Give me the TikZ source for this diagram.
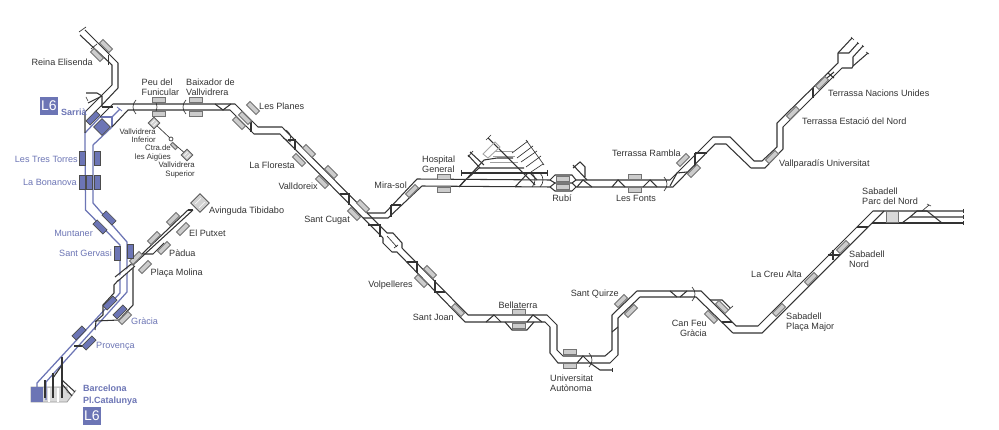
\documentclass[tikz,border=0pt]{standalone}
\usepackage{fontspec}
\setmainfont{Liberation Sans}
\definecolor{trk}{HTML}{333333}
\definecolor{fgc}{HTML}{6C75B5}
\definecolor{txt}{HTML}{333333}
\tikzset{
  trk/.style={draw=trk,line width=1.05pt,line join=miter},
  gtrk/.style={draw=gray!75,line width=1pt},
  bl/.style={draw=fgc,line width=1.25pt},
  thin trk/.style={draw=trk,line width=0.65pt},
  bridge/.style={draw=white,line width=3pt},
  plat/.style={draw=gray!90!black,fill=gray!40,line width=0.9pt,minimum width=13.5pt,minimum height=5pt,inner sep=0pt,outer sep=0pt},
  bplat/.style={draw=black!70,fill=fgc,line width=0.7pt,minimum width=14pt,minimum height=6pt,inner sep=0pt,outer sep=0pt},
  lab/.style={font=\fontsize{9.1}{10}\selectfont,text=txt,inner sep=0pt,align=left},
  blab/.style={font=\fontsize{9.1}{10}\selectfont,text=fgc,inner sep=0pt},
  sm/.style={font=\fontsize{7.8}{8.4}\selectfont,text=txt,inner sep=0pt,align=right},
  bblab/.style={font=\fontsize{9}{12}\selectfont\bfseries,text=fgc,inner sep=0pt,align=left},
  lbox/.style={fill=fgc,text=white,font=\fontsize{14}{14}\selectfont,minimum size=18pt,inner sep=0pt},
}
\newcommand{\arcR}[2]{\draw[thin trk] (#1-1,#2-7) .. controls (#1+3,#2-3) and (#1+3,#2+3) .. (#1-1,#2+7);}
\newcommand{\arcL}[2]{\draw[thin trk] (#1+1,#2-7) .. controls (#1-3,#2-3) and (#1-3,#2+3) .. (#1+1,#2+7);}
\begin{document}
\begin{tikzpicture}[x=1pt,y=-1pt]
\useasboundingbox (0,0) rectangle (999,430);
\fill[white] (0,0) rectangle (999,430);

% --- Barcelona station
\fill[gray!30,draw=gray!80,line width=0.8pt] (31,387) -- (67,387) -- (67,392) -- (72,395) -- (76,390) -- (67,402) -- (31,402) -- cycle;
\fill[fgc] (31,387) rectangle (43,402);
\foreach \x in {49,58}{\draw[white,line width=2pt] (\x,388) -- (\x,402);}

% --- blue tracks
\draw[bl] (85,133) -- (85.5,210) -- (120,245) -- (120,293) -- (37,383) -- (37,400);
\draw[bl] (93,145) -- (93,203) -- (127,242) -- (127,292) -- (46,382) -- (46,400);
\draw[bl] (85,133) -- (100,117);
\draw[bl] (93,145) -- (112,127);
\draw[bl] (100,117) -- (112,117) -- (112,127);
\draw[bl] (112,117) -- (120,109);
\draw[bl,line width=0.8pt] (117,107) -- (122,111);

% --- Reina Elisenda / Sarria
\draw[trk] (85,30) -- (118,63) -- (118,88) -- (102,105) -- (94,113);
\draw[trk] (80,35) -- (112,65) -- (112,85) -- (85,112) -- (85,133);
\draw[thin trk] (79,32) -- (86,27);
\draw[thin trk] (97,44) -- (91,49);
\draw[thin trk] (108,55) -- (108,65);
\draw[trk] (102,107) -- (102,96) -- (97,93) -- (86,93);
\draw[trk] (102,96) -- (88,103) ;
\draw[thin trk] (86,97) -- (88,101);
\draw[trk] (102,107) -- (113,107);

% --- Main line, Sarria -> Sant Cugat -> Sant Joan -> Sabadell
\draw[trk] (100,117) -- (113,104) -- (235,104) -- (258,127) -- (282,127) -- (387,233) -- (393,233) -- (402,243) -- (402,248) -- (468,315) -- (547,315) -- (557,325) -- (557,350) -- (563,356) -- (605,356) -- (612,350) -- (612,315) -- (637,291) -- (701,291) -- (736,326) -- (758,326) -- (873,211) -- (963,211);
\draw[trk] (112,127) -- (128,110) -- (230,110) -- (254,134) -- (280,134) -- (383,238) -- (383,243) -- (392,252) -- (397,252) -- (465,322) -- (545,322) -- (550,327) -- (550,353) -- (558,363) -- (610,363) -- (618,355) -- (618,318) -- (640,297) -- (696,297) -- (733,333) -- (762,333) -- (884,211);
\draw[trk] (872,223) -- (963,223);
\draw[trk] (902,223) -- (910,217) -- (963,217);
\draw[trk] (910,217) -- (917,211) -- (927,211) -- (942,223);
\draw[thin trk] (922,211) -- (929,205);
\draw[thin trk] (927,204) -- (931,206);
\foreach \y in {211,217,223}{\draw[thin trk] (963,\y-2) -- (963,\y+2);}

% crossovers
\draw[trk] (215,104) -- (223,110) -- (231,104);
\draw[trk] (251,120) -- (251,132);
\draw[trk] (288,140) -- (295,140) -- (295,150);
\draw[trk] (340,194) -- (349,194) -- (349,205);
\draw[trk] (368,225) -- (380,225) -- (380,237);
\draw[thin trk] (387,236) -- (397,247) (394,248) -- (398,245);
\draw[trk] (407,262) -- (417,262) -- (417,273);
\draw[trk] (435,280) -- (435,292) -- (445,292);
\draw[trk] (486,322) -- (494,315) -- (501,322);
\draw[trk] (527,322) -- (533,315) -- (542,322);
\draw[trk] (505,322) -- (512,330) -- (527,330) -- (534,322);
\draw[trk] (577,363) -- (583,356) -- (590,363) -- (600,370) -- (612,370);
\draw[thin trk] (612,368) -- (612,372);
\draw[trk] (612,332) -- (618,327);
\draw[trk] (670,291) -- (677,297);
\draw[trk] (680,297) -- (687,291);
\draw[trk] (710,300) -- (722,300) -- (730,308);
\draw[thin trk] (727,311) -- (733,306);
\draw[trk] (722,322) -- (732,322);
\draw[trk] (828,255) -- (840,255) (833,250) -- (833,260);
\draw[trk] (857,227) -- (868,227);

% --- Terrassa branch
\draw[trk] (367,213) -- (385,213) -- (417,179) -- (550,180) -- (555,175) -- (572,175) -- (576,180) -- (670,180) -- (713,137) -- (730,137) -- (754,161) -- (762,161) -- (777,147) -- (777,123) -- (838,63) -- (838,53) -- (852,38);
\draw[trk] (363,218) -- (388,218) -- (422,186) -- (550,187) -- (555,191) -- (572,191) -- (576,187) -- (673,187) -- (715,144) -- (726,144) -- (751,168) -- (765,168) -- (783,149) -- (783,127) -- (842,68) -- (852,68) -- (853,66) -- (853,57) -- (863,46);
\draw[trk] (550,180) -- (555,183) -- (572,183) -- (576,180);
\draw[trk] (550,187) -- (555,183) (572,183) -- (576,187);
\draw[trk] (838,53) -- (849,53) -- (858,43);
\draw[trk] (853,66) -- (868,53);
\draw[thin trk] (851,37) -- (854,40) (857,42) -- (859,44) (862,45) -- (864,47) (866,52) -- (869,54);

\draw[trk] (391,205) -- (391,217);
\draw[trk] (391,205) -- (401,205);
\draw[trk] (465,180) -- (459,187);
\draw[trk] (577,187) -- (583,180) -- (592,187);
\draw[trk] (612,187) -- (618,180) -- (625,187);
\draw[trk] (643,187) -- (650,180) -- (657,187);
\draw[trk] (587,180) -- (573,165) (573,168) -- (580,162) -- (585,167) -- (585,177);
\draw[trk] (670,186) -- (677,173) -- (687,172);
\draw[trk] (695,153) -- (707,153);
\draw[trk] (695,153) -- (695,167);
\draw[trk] (813,88) -- (813,98);
\draw[trk] (828,73) -- (834,78) (827,78) -- (834,72);

% --- Rubi yard
\draw[trk] (461,173) -- (547,173);
\draw[thin trk] (461,170) -- (461,176) (547,170) -- (547,176);
\draw[trk] (459,187) -- (484,160) -- (497,158) -- (513,158);
\draw[trk] (468,178) -- (479,168) -- (524,168);
\draw[gtrk] (490,163) -- (518,163);
\draw[gtrk] (493,157) -- (515,157) (495,152) -- (513,152);
\draw[trk] (488,138) -- (535,185);
\draw[thin trk] (486,140) -- (491,135);
\draw[trk] (470,152) -- (484,165);
\draw[trk] (468,155) -- (480,168);
\draw[thin trk] (468,157) -- (473,151);
\draw[gray!70,line width=0.9pt] (483,154) -- (495,142) -- (500,147) -- (488,158) -- cycle;
\draw[thin trk] (512,153) -- (528,141) (517,158) -- (533,146) (521,162) -- (537,151) (526,167) -- (541,156) (531,172) -- (543,164);
\draw[thin trk] (526,140) -- (544,165);
\draw[trk] (515,187) -- (527,174) (530,173) -- (537,180);

% --- Tibidabo branch (L7)
\draw[trk] (188,210) -- (143,253) -- (114,285) -- (114,293) -- (103,305) -- (103,315) -- (95,322);
\draw[trk] (193,210) -- (133,265) -- (133,305) -- (119,320) -- (96,321) -- (95,330);
\draw[trk] (188,210) -- (193,210);
\draw[trk] (143,254) -- (153,254) -- (164,243);
\draw[trk] (133,265) -- (125,272);
\draw[bridge] (118,279) -- (133,266);
\draw[trk] (115,277) -- (135,261);
\draw[trk] (118,281) -- (135,266);
\draw[trk] (74,346) -- (85,346);
\draw[trk] (62,357) -- (62,398);
\draw[trk] (53,373) -- (53,398);
\draw[trk] (45,380) -- (45,398);
\draw[trk] (62,380) -- (75,392);
\draw[trk] (62,384) -- (72,396);
\draw[trk] (53,378) -- (62,365);

% funicular
\draw[thin trk] (154,123) -- (171,139) (172,142) -- (187,155);
\draw[thin trk,fill=white] (171,139) circle[radius=2pt];

% arcs
\arcL{135}{107}\arcR{155}{107}\arcL{185}{107}
\arcR{533}{180}\arcR{541}{180}\arcR{665}{184}\arcR{590}{360}\arcR{693}{294}
\draw[thin trk] (283,138) -- (291,142) (286,130) .. controls (291,134) and (291,136) .. (290,140);

% --- platforms
\foreach \n/\x/\y/\a in {pa/106/46/-45,pb/97/55/-45,pc/159/100/0,pd/159/114/0,pe/196/100/0,pf/196/114/0,
 pg/253/108/-45,ph/245/118/-45,pi/239/123/-45,pj/309/151/-45,pk/299/160/-45,pl/331/172/-45,pm/322/182/-45,
 pn/363/206/-45,po/354/214/-45,pp/412/191/45,pq/444/177/0,pr/444/190/0,ps/430/272/-45,pt/421/281/-45,pu/458/310/-45,
 pv/519/312/0,pw/519/326/0,px/570/352/0,py/570/366/0,pz/621/301/45,qa/631/311/45,qb/635/177/0,qc/635/190/0,
 qd/683/160/45,qe/694/171/45,qf/772/157/45,qg/793/113/45,qh/822/83/45,qi/722/307/-45,qj/711/317/-45,
 qk/779/310/45,ql/811/279/45,qm/843/247/45,qn/173/219/45,qo/183/229/45,qp/154/238/45,qq/164/248/45,qr/136/258/45,qs/145/267/45,
 qt/125/318/45,qu/563/179/0,qv/563/187/0}
 \node[plat] (\n) at (\x,\y) [rotate=\a] {};
\node[plat,minimum width=12pt,minimum height=11pt,fill=gray!30] (parc) at (892,217) {};
\foreach \n/\x/\y/\a in {ba/93/118/45,bb/120/312/45,bc/110/303/45,bd/79/333/45,be/89/343/45,bf/109/218/-45,bg/100/227/-45,
 bh/82/158/90,bi/97/158/90,bj/82/182/90,bk/89/182/90,bl/97/182/90,bm/117/253/90,bn/130/251/90}
 \node[bplat] (\n) at (\x,\y) [rotate=\a] {};
\node[bplat,minimum width=12pt,minimum height=12pt] (sq) at (102,127) [rotate=45] {};
% hatched small stations
\foreach \n/\x/\y/\s in {va/154/123/8,vb/187/155/8,vc/200/203/13}{
 \node[plat,minimum width=\s pt,minimum height=\s pt,rotate=45,fill=gray!35,draw=gray!70!black] (\n) at (\x,\y) {};
 \draw[white,line width=0.5pt,rotate around={45:(\x,\y)}] (\x-0.3*\s,\y-0.2*\s) -- (\x+0.3*\s,\y-0.2*\s) (\x-0.3*\s,\y+0.2*\s) -- (\x+0.3*\s,\y+0.2*\s);
}
\node[plat,minimum width=7pt,minimum height=3pt,rotate=-45] (vd) at (174,146) {};
% --- labels
\node[lab,anchor=east] (t1) at (93,62) {Reina Elisenda};
\node[lab,anchor=west] (t2) at (141.5,87) {Peu del\\Funicular};
\node[lab,anchor=west] (t3) at (186,87) {Baixador de\\Vallvidrera};
\node[lab,anchor=west] (t4) at (259,106.5) {Les Planes};
\node[lbox] (t5) at (49,106) {L6};
\node[blab,anchor=west,font=\fontsize{9}{10}\selectfont\bfseries] (t6) at (61,112) {Sarrià};
\node[sm,anchor=east] (t7) at (156,136) {Vallvidrera\\Inferior};
\node[sm,anchor=east] (t8) at (171,153) {Ctra.de\\les Aigües};
\node[sm,anchor=east] (t9) at (195,170) {Vallvidrera\\Superior};
\node[blab,anchor=east] (t10) at (78,159) {Les Tres Torres};
\node[blab,anchor=east] (t11) at (77,182.5) {La Bonanova};
\node[blab,anchor=east] (t12) at (93,233.5) {Muntaner};
\node[blab,anchor=east] (t13) at (112,253) {Sant Gervasi};
\node[lab,anchor=west] (t14) at (209,211) {Avinguda Tibidabo};
\node[lab,anchor=west] (t15) at (189,233.5) {El Putxet};
\node[lab,anchor=west] (t16) at (169,253.5) {Pàdua};
\node[lab,anchor=west] (t17) at (150.5,273.5) {Plaça Molina};
\node[blab,anchor=west] (t18) at (131,321.5) {Gràcia};
\node[blab,anchor=west] (t19) at (96,346.5) {Provença};
\node[bblab,anchor=west] (t20) at (83,395) {Barcelona\\Pl.Catalunya};
\node[lbox] (t21) at (92,416) {L6};
\node[lab,anchor=east] (t22) at (295,165) {La Floresta};
\node[lab,anchor=east] (t23) at (318,186.5) {Valldoreix};
\node[lab,anchor=east] (t24) at (350,220) {Sant Cugat};
\node[lab,anchor=east] (t25) at (407,185) {Mira-sol};
\node[lab,anchor=west] (t26) at (422,164) {Hospital\\General};
\node[lab,anchor=east] (t27) at (413,285) {Volpelleres};
\node[lab,anchor=east] (t28) at (454,317) {Sant Joan};
\node[lab] (t29) at (518,305) {Bellaterra};
\node[lab,anchor=west] (t30) at (550,383) {Universitat\\Autònoma};
\node[lab,anchor=east] (t31) at (619,294.5) {Sant Quirze};
\node[lab,anchor=east,align=right] (t32) at (707,328) {Can Feu\\Gràcia};
\node[lab,anchor=west] (t33) at (786,322) {Sabadell\\Plaça Major};
\node[lab,anchor=east] (t34) at (802,274) {La Creu Alta};
\node[lab,anchor=west] (t35) at (849,259.5) {Sabadell\\Nord};
\node[lab,anchor=west] (t36) at (862,196.5) {Sabadell\\Parc del Nord};
\node[lab,anchor=west] (t37) at (779,164) {Vallparadís Universitat};
\node[lab,anchor=west] (t38) at (802,121) {Terrassa Estació del Nord};
\node[lab,anchor=west] (t39) at (828,93) {Terrassa Nacions Unides};
\node[lab,anchor=east] (t40) at (681,153) {Terrassa Rambla};
\node[lab] (t41) at (562,198) {Rubí};
\node[lab] (t42) at (636,198) {Les Fonts};
\end{tikzpicture}
\end{document}
